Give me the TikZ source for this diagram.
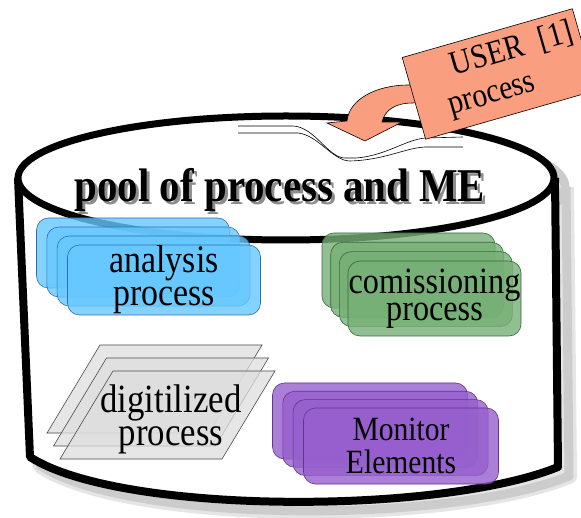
\documentclass[tikz,border=0pt]{standalone}
\usepackage{fontspec}
\setmainfont{Liberation Serif}
\newfontfamily\poolfont[FakeStretch=0.87]{Liberation Serif}
\usetikzlibrary{calc}

\definecolor{poolblue}{RGB}{102,200,255}
\definecolor{pooledgeblue}{RGB}{50,110,180}
\definecolor{poolgreen}{RGB}{118,176,118}
\definecolor{pooledgegreen}{RGB}{55,105,55}
\definecolor{poolviolet}{RGB}{150,95,205}
\definecolor{pooledgeviolet}{RGB}{95,55,140}
\definecolor{poolgray}{RGB}{222,222,222}
\definecolor{usersalmon}{RGB}{250,158,128}

\begin{document}
\begin{tikzpicture}[x=1pt,y=-1pt]
  \useasboundingbox (0,0) rectangle (581,518);
  \tikzset{card/.style = {rounded corners=12pt, draw, line width=0.6pt, fill opacity=0.8,
      text opacity=1, inner sep=0pt, align=center}};
  \tikzset{anacard/.style = {card, fill=poolblue, draw=pooledgeblue,
      minimum width=193pt, minimum height=70pt, font=\poolfont\fontsize{39}{33}\selectfont}};
  \tikzset{comcard/.style = {card, fill=poolgreen, draw=pooledgegreen,
      minimum width=173pt, minimum height=75pt, font=\poolfont\fontsize{37}{27}\selectfont}};
  \tikzset{moncard/.style = {card, fill=poolviolet, draw=pooledgeviolet,
      minimum width=195pt, minimum height=76pt, font=\poolfont\fontsize{34}{33}\selectfont}};
  \tikzset{digicard/.style = {draw=black!70, line width=0.6pt, fill=poolgray, fill opacity=0.75}};

  % cylinder shadow
  \draw[gray!20, line width=16pt, line join=round, shift={(11,9)}]
    (18,178) -- (30,457) .. controls (120,515) and (440,515) .. (558,467) -- (555,178);
  \draw[gray!40, line width=9pt, line join=round, shift={(11,9)}]
    (18,178) -- (30,457) .. controls (120,515) and (440,515) .. (558,467) -- (555,178);
  \draw[gray!40, line width=9pt, shift={(11,9)}] (286,178) ellipse [x radius=268pt, y radius=62pt];

  % cylinder body and lid
  \fill[white] (18,178) -- (30,457) .. controls (120,515) and (440,515) .. (558,467) -- (555,178) -- cycle;
  \draw[line width=8pt, line join=round]
    (18,178) -- (30,457) .. controls (120,515) and (440,515) .. (558,467) -- (555,178);
  \draw[line width=7pt, fill=white] (286,178) ellipse [x radius=268pt, y radius=62pt];

  % analysis stack
  \foreach \i in {0,1,2}
    \node[anacard] (ana\i) at (133+10.3*\i,253+9*\i) {};
  \node[anacard] (ana) at (164,280) {analysis\\process};

  % comissioning stack
  \foreach \i in {0,1,2}
    \node[comcard] (com\i) at (408.5+8.7*\i,270.5+9.3*\i) {};
  \node[comcard] (com) at (434.5,298.5) {comissioning\\process};

  % digitilized stack
  \foreach \i in {0,1,2}
    \draw[digicard, shift={(6.5*\i,13*\i)}] (47,433) -- (100,345) -- (262,345) -- (209,433) -- cycle;
  \node[align=center, font=\poolfont\fontsize{40}{33}\selectfont] (digi) at (171,419) {digitilized\\process};

  % monitor elements stack
  \foreach \i in {0,1,2}
    \node[moncard] (mon\i) at (370+10.3*\i,421+8.3*\i) {};
  \node[moncard] (mon) at (401,446) {Monitor\\Elements};

  % torn lid
  \draw[line width=0.6pt] (238,126) -- (293,126) .. controls (315,127) and (328,158) .. (345,158)
    -- (356,158) .. controls (385,156) and (405,140) .. (425,138) -- (463,137);
  \draw[line width=0.6pt] (238,133) -- (298,133) .. controls (318,135) and (333,161) .. (350,161)
    .. controls (385,160) and (405,148) .. (425,147) -- (463,147);

  % user process dropping in
  \filldraw[fill=usersalmon, line width=0.6pt] (440,82) -- (409,85) .. controls (375,85) and (349,100) .. (347,121)
    -- (327,123) -- (365,141) -- (402,122) -- (382,122)
    .. controls (385,110) and (395,103) .. (413,103) -- (440,100) -- cycle;
  \node[draw, fill=usersalmon, line width=0.6pt, rotate=16, minimum width=177pt, minimum height=85pt] (user) at (499,74) {};
  \node[rotate=16, align=left, inner sep=0pt, font=\poolfont\fontsize{34}{37}\selectfont] (usertxt) at (511,70)
    {\hspace*{13pt}USER\hspace{16pt}[1]\\process};

  % title on the lid
  \node[anchor=base, font=\poolfont\fontsize{47}{47}\selectfont\bfseries, text=black!45] at (283,205) {pool of process and ME};
  \node[anchor=base, font=\poolfont\fontsize{47}{47}\selectfont\bfseries] (pool) at (280,202) {pool of process and ME};
\end{tikzpicture}
\end{document}
